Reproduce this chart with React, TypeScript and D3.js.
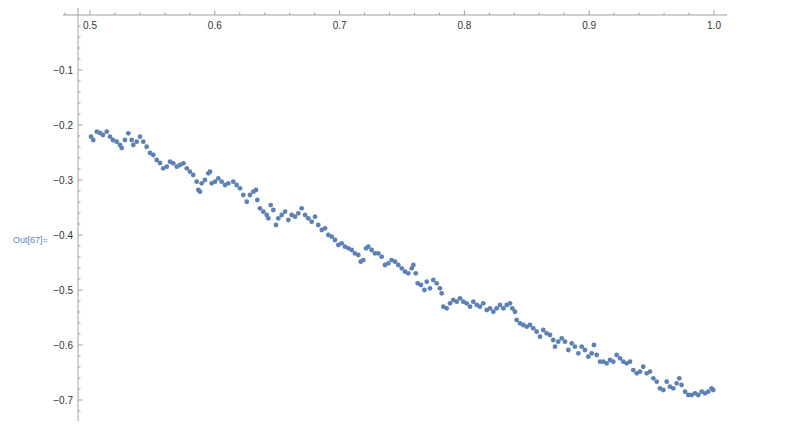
import React from "react";
import * as d3 from "d3";

const xValues: number[] = [
  0.5008, 0.5026, 0.5054, 0.508, 0.5104, 0.5134, 0.516, 0.5184, 0.5214, 0.524, 0.5254, 0.528, 0.5307, 0.5334, 0.5347, 0.5374, 0.5401, 0.5427, 0.5454, 0.5481,
  0.5507, 0.5534, 0.5561, 0.5587, 0.5615, 0.5641, 0.5667, 0.5695, 0.5721, 0.5748, 0.5775, 0.5801, 0.5827, 0.5855, 0.5868, 0.5881, 0.5895, 0.5921, 0.5948, 0.5962,
  0.5975, 0.6002, 0.6028, 0.6055, 0.6082, 0.6108, 0.6148, 0.6175, 0.6202, 0.6228,
  0.6256, 0.6282, 0.6309, 0.633, 0.6341, 0.6362, 0.6389, 0.6416, 0.6429, 0.6448, 0.6469, 0.649, 0.6509, 0.6536, 0.6563, 0.6589, 0.6616, 0.6643, 0.6669, 0.6696,
  0.6723, 0.6749, 0.6776, 0.6803, 0.6829, 0.6857, 0.6883, 0.691, 0.6937, 0.6963, 0.699, 0.7017, 0.7043, 0.707, 0.7097, 0.7123, 0.715, 0.7169, 0.719, 0.7212,
  0.723, 0.7257, 0.7284, 0.731, 0.7337, 0.7364, 0.739, 0.7417, 0.7444,
  0.747, 0.7498, 0.7524, 0.755, 0.7578, 0.7591, 0.761, 0.7626, 0.7652, 0.7679, 0.7698, 0.7724, 0.7751, 0.7778, 0.7804, 0.7818, 0.7831, 0.7858, 0.7885, 0.7911,
  0.7938, 0.7965, 0.7991, 0.8018, 0.8045, 0.8071, 0.8099, 0.8125, 0.8151, 0.8179, 0.8205, 0.8232, 0.8259, 0.8285, 0.8312, 0.8339, 0.8365, 0.8384, 0.8405, 0.8419,
  0.8446, 0.8472, 0.8499, 0.8526, 0.8552, 0.8579, 0.8606, 0.8632, 0.8659, 0.8686,
  0.8712, 0.8726, 0.8752, 0.878, 0.8806, 0.8833, 0.886, 0.8886, 0.8913, 0.894, 0.8966, 0.8993, 0.902, 0.9038, 0.906, 0.9087, 0.9113, 0.914, 0.9167, 0.9193,
  0.922, 0.9247, 0.9273, 0.93, 0.9327, 0.9353, 0.9381, 0.9407, 0.9433, 0.9461, 0.9487, 0.9514, 0.9541, 0.9567, 0.9594, 0.9621, 0.9647, 0.9674, 0.9701, 0.9722,
  0.974, 0.9768, 0.9794, 0.9821, 0.9848, 0.9874, 0.9901, 0.9928, 0.9954, 0.9981, 0.9994,
];

const yValues: number[] = [
  -0.2213, -0.2273, -0.2122, -0.2145, -0.2182, -0.2122, -0.2213, -0.2273, -0.2304, -0.2364, -0.2418, -0.2273, -0.2151, -0.2273, -0.2364, -0.2304, -0.2213, -0.2304, -0.2395, -0.2509,
  -0.2545, -0.2636, -0.2691, -0.2787, -0.2758, -0.2667, -0.2696, -0.2758, -0.2727, -0.2696, -0.2787, -0.2849, -0.2909, -0.3031, -0.3182, -0.3213, -0.306, -0.3, -0.2878, -0.2849,
  -0.306, -0.3031, -0.2969, -0.3031, -0.3091, -0.306, -0.3031, -0.3091, -0.3151, -0.3273,
  -0.3395, -0.3273, -0.3213, -0.3182, -0.3364, -0.3515, -0.3576, -0.3636, -0.3696, -0.3455, -0.3545, -0.3818, -0.3696, -0.3636, -0.3576, -0.3727, -0.3636, -0.3667, -0.3606, -0.3515,
  -0.3636, -0.3696, -0.3758, -0.3667, -0.3818, -0.3909, -0.3878, -0.4, -0.4031, -0.4091, -0.4182, -0.4151, -0.4213, -0.4242, -0.4273, -0.4333, -0.4364, -0.4485, -0.4455, -0.4242,
  -0.4213, -0.4273, -0.4333, -0.4333, -0.4395, -0.4545, -0.4515, -0.4455, -0.4485,
  -0.4545, -0.4606, -0.4667, -0.4696, -0.4606, -0.4545, -0.4696, -0.4878, -0.4909, -0.5, -0.4849, -0.4969, -0.4818, -0.4878, -0.4969, -0.506, -0.5304, -0.5333, -0.5242, -0.5182,
  -0.5213, -0.5151, -0.5213, -0.5242, -0.5304, -0.5213, -0.5273, -0.5304, -0.5242, -0.5364, -0.5333, -0.5395, -0.5333, -0.5273, -0.5333, -0.5273, -0.5242, -0.5333, -0.5395, -0.5545,
  -0.5606, -0.5636, -0.5667, -0.5636, -0.5696, -0.5758, -0.5849, -0.5727, -0.5787, -0.5818,
  -0.5909, -0.6031, -0.594, -0.5878, -0.594, -0.6091, -0.5969, -0.6031, -0.6151, -0.6031, -0.6091, -0.6213, -0.6151, -0.6, -0.6182, -0.6304, -0.6304, -0.6333, -0.6273, -0.6304,
  -0.6182, -0.6242, -0.6304, -0.6333, -0.6304, -0.6455, -0.6515, -0.6485, -0.6395, -0.6515, -0.6485, -0.6606, -0.6667, -0.6787, -0.6818, -0.6667, -0.6758, -0.6787, -0.6696, -0.6606,
  -0.6727, -0.6849, -0.6909, -0.6909, -0.6878, -0.6909, -0.6849, -0.6878, -0.6849, -0.6787, -0.6818,
];

const xMajorTicks: number[] = [0.5, 0.6, 0.7, 0.8, 0.9, 1.0];
const xTickLabels: string[] = ["0.5", "0.6", "0.7", "0.8", "0.9", "1.0"];
const yMajorTicks: number[] = [-0.1, -0.2, -0.3, -0.4, -0.5, -0.6, -0.7];
const yTickLabels: string[] = ["\u22120.1", "\u22120.2", "\u22120.3", "\u22120.4", "\u22120.5", "\u22120.6", "\u22120.7"];
const outLabel = "Out[67]=";

export default function App() {
  const W = 800;
  const H = 425;
  const x = d3.scaleLinear().domain([0.5, 1.0]).range([90, 714]);
  const y = d3.scaleLinear().domain([0, -0.7]).range([15, 400]);

  const xAxisY = y(0);
  const yAxisX = x(0.4904);

  const xMinor = d3.range(0.48, 1.001, 0.02).filter(
    (v) => !xMajorTicks.some((m) => Math.abs(m - v) < 1e-6)
  );
  const yMinor = d3.range(-0.02, -0.7201, -0.02).filter(
    (v) => !yMajorTicks.some((m) => Math.abs(m - v) < 1e-6)
  );

  const axisColor = "#a0a0a0";
  const labelColor = "#333";
  const font = "'Liberation Sans', Arial, sans-serif";

  return (
    <svg
      width={W}
      height={H}
      style={{ position: "absolute", left: 0, top: 0, background: "#fff" }}
    >
      <text x={13} y={243} fontSize={9} fill="#5a84b5" fontFamily={font}>
        {outLabel}
      </text>
      {/* x axis */}
      <line x1={63} x2={727} y1={xAxisY} y2={xAxisY} stroke={axisColor} strokeWidth={1} />
      {xMinor.map((v, i) => (
        <line key={"xm" + i} x1={x(v)} x2={x(v)} y1={xAxisY} y2={xAxisY - 2.5} stroke={axisColor} />
      ))}
      {xMajorTicks.map((v, i) => (
        <g key={"xM" + i}>
          <line x1={x(v)} x2={x(v)} y1={xAxisY} y2={xAxisY - 4.5} stroke={axisColor} />
          <text
            x={x(v)}
            y={xAxisY + 14}
            fontSize={10}
            textAnchor="middle"
            fill={labelColor}
            fontFamily={font}
          >
            {xTickLabels[i]}
          </text>
        </g>
      ))}
      {/* y axis */}
      <line x1={yAxisX} x2={yAxisX} y1={8} y2={421} stroke={axisColor} strokeWidth={1} />
      {yMinor.map((v, i) => (
        <line key={"ym" + i} x1={yAxisX} x2={yAxisX + 2.5} y1={y(v)} y2={y(v)} stroke={axisColor} />
      ))}
      {yMajorTicks.map((v, i) => (
        <g key={"yM" + i}>
          <line x1={yAxisX} x2={yAxisX + 4.5} y1={y(v)} y2={y(v)} stroke={axisColor} />
          <text
            x={yAxisX - 5}
            y={y(v) + 3.5}
            fontSize={10}
            textAnchor="end"
            fill={labelColor}
            fontFamily={font}
          >
            {yTickLabels[i]}
          </text>
        </g>
      ))}
      {/* points */}
      <g fill="#5e81b5">
        {xValues.map((xv, i) => (
          <circle key={"p" + i} cx={x(xv)} cy={y(yValues[i])} r={2.4} />
        ))}
      </g>
    </svg>
  );
}
